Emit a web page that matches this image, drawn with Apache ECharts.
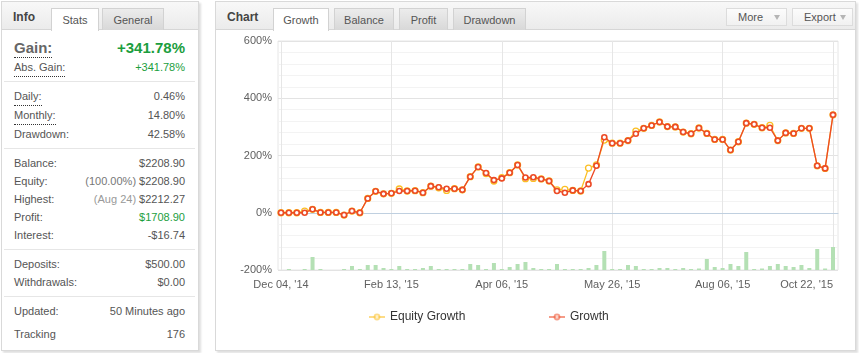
<!DOCTYPE html>
<html>
<head>
<meta charset="utf-8">
<script src="https://cdn.jsdelivr.net/npm/echarts@6/dist/echarts.min.js"></script>
<style>
  body { margin: 0; width: 859px; height: 353px; background: #fff; position: relative; overflow: hidden;
         font-family: 'Liberation Sans', Arial, sans-serif; font-size: 11px; color: #555; }
  .box { position: absolute; top: 1px; background: #fff; border: 1px solid #d9d9d9;
         box-shadow: 2px 2px 2px rgba(0, 0, 0, 0.13); }
  .head { position: absolute; left: 0; top: 0; right: 0; height: 27px;
          background: linear-gradient(#f8f8f8, #ebebeb); border-bottom: 1px solid #d6d6d6; }
  .title { position: absolute; top: 0; line-height: 31px; font-weight: bold; font-size: 12px; color: #444; }
  .tab { position: absolute; top: 6px; height: 21px; line-height: 23px; text-align: center; color: #555;
         border: 1px solid #d2d2d2; border-bottom: none; background: linear-gradient(#ececec, #d8d8d8); }
  .tab.on { background: #fff; height: 22px; }
  .btn { position: absolute; top: 6px; height: 16px; line-height: 17px; color: #555; padding-left: 11px;
         border: 1px solid #dcdcdc; background: linear-gradient(#fcfcfc, #f1f1f1); }
  .btn i { position: absolute; right: 6px; top: 6px; width: 0; height: 0;
           border-left: 3px solid transparent; border-right: 3px solid transparent; border-top: 5px solid #b5b5b5; }
  .row { position: absolute; left: 14px; width: 171px; height: 18px; line-height: 18px; }
  .row .r { position: absolute; right: 0; top: 0; }
  .dot { display: inline-block; border-bottom: 1px dotted #333; }
  .sep { position: absolute; left: 4px; width: 191px; height: 1px; background: #e6e6e6; }
  .green { color: #1b9e3e; }
  #chart { position: absolute; left: 0; top: 0; width: 859px; height: 353px; }
</style>
</head>
<body>
<!-- info panel -->
<div class="box" style="left:1px;width:196px;height:348px;">
  <div class="head"></div>
  <div class="title" style="left:11px;">Info</div>
  <div class="tab on" style="left:49px;width:46px;">Stats</div>
  <div class="tab" style="left:100px;width:60px;">General</div>
</div>
<div class="row" style="top:39px;font-size:15px;font-weight:bold;color:#666;"><span class="dot">Gain:</span><span class="r green">+341.78%</span></div>
<div class="row" style="top:58px;"><span class="dot">Abs. Gain:</span><span class="r green">+341.78%</span></div>
<div class="sep" style="top:81px;"></div>
<div class="row" style="top:87px;"><span class="dot">Daily:</span><span class="r">0.46%</span></div>
<div class="row" style="top:106px;"><span class="dot">Monthly:</span><span class="r">14.80%</span></div>
<div class="row" style="top:125px;">Drawdown:<span class="r">42.58%</span></div>
<div class="sep" style="top:148px;"></div>
<div class="row" style="top:154px;">Balance:<span class="r">$2208.90</span></div>
<div class="row" style="top:172px;">Equity:<span class="r"><span style="color:#777">(100.00%)</span> $2208.90</span></div>
<div class="row" style="top:190px;">Highest:<span class="r"><span style="color:#999">(Aug 24)</span> $2212.27</span></div>
<div class="row" style="top:208px;">Profit:<span class="r green">$1708.90</span></div>
<div class="row" style="top:226px;">Interest:<span class="r">-$16.74</span></div>
<div class="sep" style="top:249px;"></div>
<div class="row" style="top:255px;">Deposits:<span class="r">$500.00</span></div>
<div class="row" style="top:273px;">Withdrawals:<span class="r">$0.00</span></div>
<div class="sep" style="top:296px;"></div>
<div class="row" style="top:302px;">Updated:<span class="r">50 Minutes ago</span></div>
<div class="row" style="top:325px;">Tracking<span class="r">176</span></div>

<!-- chart panel -->
<div class="box" style="left:215px;width:639px;height:348px;">
  <div class="head"></div>
  <div class="title" style="left:11px;">Chart</div>
  <div class="tab on" style="left:57px;width:54px;">Growth</div>
  <div class="tab" style="left:118px;width:58px;">Balance</div>
  <div class="tab" style="left:183px;width:47px;">Profit</div>
  <div class="tab" style="left:237px;width:71px;">Drawdown</div>
  <div class="btn" style="left:510px;width:48px;">More<i></i></div>
  <div class="btn" style="left:576px;width:48px;">Export<i></i></div>
</div>
<div id="chart"></div>

<script>
// x tick labels, one every 14 points
const tickLabels = ["Dec 04, '14", "Feb 13, '15", "Apr 06, '15", "May 26, '15", "Aug 06, '15", "Oct 22, '15"];
// growth in %
const growth = [0, 0, 0, 0, 12, 1, 1, 1, -8, 6,
  0, 50, 75, 66, 68, 76, 76, 77, 70, 93,
  89, 84, 84, 80, 126, 160, 139, 114, 120, 140,
  167, 123, 124, 118, 111, 76, 70, 78, 76, 100,
  164, 264, 243, 243, 252, 276, 295, 305, 317, 301,
  300, 282, 276, 296, 277, 256, 256, 219, 248, 313,
  309, 297, 297, 252, 279, 277, 295, 295, 164, 155,
  342];
const equityGrowth = [0, 0, 0, 6, 12, 1, 1, 1, -8, 6,
  0, 50, 75, 66, 68, 83, 76, 77, 70, 93,
  87, 78, 84, 80, 126, 160, 137, 111, 123, 140,
  167, 119, 120, 118, 111, 80, 82, 78, 76, 156,
  167, 254, 243, 243, 252, 285, 295, 305, 317, 301,
  300, 282, 276, 296, 277, 256, 256, 219, 248, 313,
  309, 297, 305, 252, 279, 277, 295, 295, 164, 155,
  342];
// green volume bars at the bottom
const volume = [0, 1, 0, 1, 13, 1, 0, 0, 1, 4,
  1, 5, 5, 2, 1, 4, 1, 1, 2, 4,
  1, 1, 1, 1, 6, 5, 1, 7, 1, 3,
  6, 8, 2, 1, 1, 6, 1, 1, 1, 2,
  5, 19, 1, 1, 5, 4, 1, 1, 2, 2,
  1, 2, 1, 1.5, 11, 3, 2, 6, 4, 18,
  1, 1.5, 4, 6, 4, 3, 5, 2, 21, 1.5,
  23];

const pairs = arr => arr.map((v, i) => [i, v]);
const labelColor = '#606060';
const legendBase = {
  top: 306, itemWidth: 16, itemHeight: 6,
  textStyle: { color: '#333', fontSize: 12 },
  itemStyle: { opacity: 0.55 }, lineStyle: { opacity: 0.55 },
};

const chart = echarts.init(document.getElementById('chart'));
chart.setOption({
  animation: false,
  textStyle: { fontFamily: 'Liberation Sans, Arial, sans-serif' },
  grid: [
    // outer plot box (with a little padding around the points)
    { left: 278, top: 41, width: 560, height: 229, show: true, borderColor: '#e6e6e6', borderWidth: 1 },
    { left: 281, top: 41, width: 552, height: 229 },
  ],
  legend: [
    Object.assign({ data: ['Equity Growth'], left: 363 }, legendBase),
    Object.assign({ data: ['Growth'], left: 543 }, legendBase),
  ],
  xAxis: [
    {
      gridIndex: 0, type: 'value', min: 0, max: 1,
      axisLine: { show: true, lineStyle: { color: '#c0d0e0' } },
      axisTick: { show: false }, axisLabel: { show: false }, splitLine: { show: false },
    },
    {
      gridIndex: 1, type: 'value', min: 0, max: 70, interval: 14,
      axisLine: { show: false }, axisTick: { show: false },
      splitLine: { show: true, lineStyle: { color: '#e6e6e6' } },
      axisLabel: {
        color: labelColor, fontSize: 11, margin: 9, alignMaxLabel: 'right',
        formatter: v => tickLabels[v / 14],
      },
    },
  ],
  yAxis: [
    {
      gridIndex: 0, type: 'value', min: -200, max: 600, interval: 200,
      axisLine: { show: false }, axisTick: { show: false },
      axisLabel: { color: labelColor, fontSize: 11, margin: 6, formatter: '{value}%' },
      splitLine: { lineStyle: { color: '#e3e3e3' } },
      minorTick: { show: false, splitNumber: 5 },
      minorSplitLine: { show: true, lineStyle: { color: '#f3f3f3' } },
    },
    { gridIndex: 1, type: 'value', min: -200, max: 600, show: false },
    { gridIndex: 1, type: 'value', min: 0, max: 229, show: false },
  ],
  series: [
    {
      type: 'bar', name: 'Volume', xAxisIndex: 1, yAxisIndex: 2,
      data: pairs(volume), barWidth: 4, silent: true,
      itemStyle: { color: '#b4e0b4' },
    },
    {
      type: 'line', name: 'Equity Growth', xAxisIndex: 1, yAxisIndex: 1,
      data: pairs(equityGrowth), symbol: 'circle', symbolSize: 6, z: 3,
      lineStyle: { width: 1.3, color: '#fbbf24' },
      itemStyle: { color: '#fff', borderColor: '#fbbf24', borderWidth: 1.3 },
    },
    {
      type: 'line', name: 'Growth', xAxisIndex: 1, yAxisIndex: 1,
      data: pairs(growth), symbol: 'circle', symbolSize: 5, z: 4,
      lineStyle: { width: 1.3, color: '#ec4a26' },
      itemStyle: { color: '#fff', borderColor: '#ec4a26', borderWidth: 1.6 },
    },
  ],
});
</script>
</body>
</html>
